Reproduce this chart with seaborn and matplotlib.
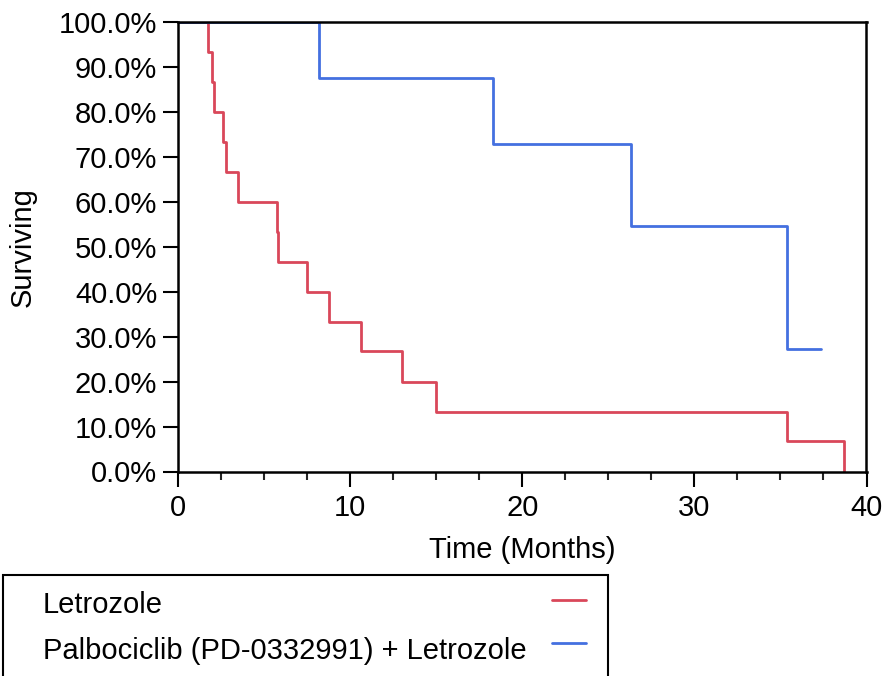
import pandas as pd
import matplotlib
matplotlib.use("Agg")
import matplotlib.pyplot as plt
import seaborn as sns
from matplotlib.ticker import PercentFormatter, MultipleLocator
from matplotlib.patches import Rectangle
from matplotlib.lines import Line2D

# Kaplan-Meier step points (months, % surviving)
arms = ["Letrozole", "Palbociclib (PD-0332991) + Letrozole"]
letrozole_time = [0, 1.75, 1.98, 2.1, 2.62, 2.76, 3.49, 5.74, 5.8, 7.52,
                  8.77, 10.64, 13.0, 15.0, 35.37, 38.67]
letrozole_surv = [100, 93.3, 86.7, 80.0, 73.3, 66.7, 60.0, 53.3, 46.7, 40.0,
                  33.3, 26.7, 20.0, 13.3, 6.7, 0.0]
palbo_time = [0, 8.17, 18.3, 26.3, 35.4, 37.35]
palbo_surv = [100, 87.5, 72.9, 54.7, 27.3, 27.3]

colors = {arms[0]: "#D9475A", arms[1]: "#4470E0"}

df = pd.concat([
    pd.DataFrame({"time": letrozole_time, "surv": letrozole_surv, "arm": arms[0]}),
    pd.DataFrame({"time": palbo_time, "surv": palbo_surv, "arm": arms[1]}),
])

sns.set_style("ticks")
plt.rcParams["font.family"] = ["Liberation Sans", "DejaVu Sans"]
plt.rcParams["text.color"] = "black"
plt.rcParams["axes.labelcolor"] = "black"
fs = 21

fig = plt.figure(figsize=(8.87, 6.76), dpi=100)
ax = fig.add_axes([178 / 887, 1 - 471.5 / 676, 688.5 / 887, 449.5 / 676])

sns.lineplot(data=df, x="time", y="surv", hue="arm", hue_order=arms,
             palette=colors, drawstyle="steps-post", estimator=None,
             linewidth=2.0, legend=False, ax=ax)

ax.set_xlim(0, 40)
ax.set_ylim(0, 100)
ax.xaxis.set_major_locator(MultipleLocator(10))
ax.xaxis.set_minor_locator(MultipleLocator(2.5))
ax.yaxis.set_major_locator(MultipleLocator(10))
ax.yaxis.set_major_formatter(PercentFormatter(decimals=1))

for side in ["top", "right", "left", "bottom"]:
    ax.spines[side].set_visible(True)
    ax.spines[side].set_linewidth(1.8)
    ax.spines[side].set_color("black")

ax.tick_params(axis="both", which="major", direction="out", length=11,
               width=1.5, labelsize=fs, colors="black")
ax.tick_params(axis="x", which="major", pad=5)
ax.tick_params(axis="y", which="major", pad=4)
ax.tick_params(axis="x", which="minor", direction="out", length=5.5, width=1.5)
ax.tick_params(axis="y", which="minor", left=False)

ax.set_xlabel("Time (Months)", fontsize=fs, labelpad=10, color="black")
ax.set_ylabel("Surviving", fontsize=fs, labelpad=16, color="black")

# legend box below the plot: label on the left, line sample on the right
fig.patches.append(Rectangle((3 / 887, -0.1), 605 / 887, 1 - 575 / 676 + 0.1,
                             transform=fig.transFigure, fill=False,
                             edgecolor="black", linewidth=1.5))
for i, arm in enumerate(arms):
    ty = 1 - (605 + 46 * i) / 676
    fig.text(43 / 887, ty, arm, fontsize=fs, va="center", ha="left",
             color="black")
    ly = 1 - (600 + 43 * i) / 676
    fig.lines.append(Line2D([552 / 887, 586 / 887], [ly, ly],
                            transform=fig.transFigure, color=colors[arm],
                            linewidth=2.0))

fig.savefig("out.png", dpi=100)
